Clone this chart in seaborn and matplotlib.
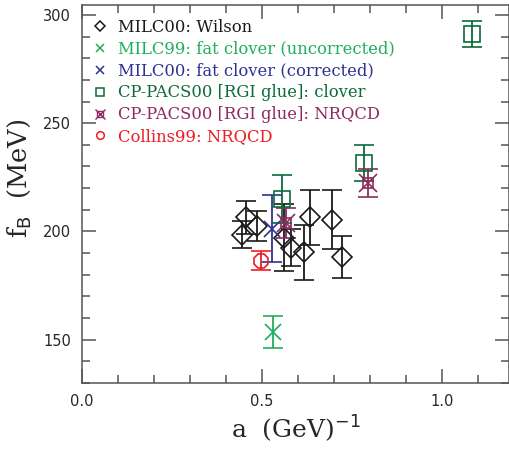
import matplotlib
matplotlib.use("Agg")
import matplotlib.pyplot as plt
import seaborn as sns
from matplotlib.lines import Line2D
from matplotlib.legend_handler import HandlerTuple
from matplotlib.ticker import MultipleLocator

# MILC00: Wilson
wilson_a = [0.444, 0.455, 0.487, 0.560, 0.580, 0.617, 0.633, 0.694, 0.723]
wilson_fb = [198.5, 206.5, 202.5, 197.0, 192.5, 190.3, 206.6, 205.4, 188.2]
wilson_err = [6.3, 7.5, 6.9, 15.5, 8.5, 12.7, 12.7, 13.5, 9.7]

# MILC99: fat clover (uncorrected)
milc99_a = [0.530]
milc99_fb = [153.4]
milc99_err = [7.4]

# MILC00: fat clover (corrected)
milc00fc_a = [0.528]
milc00fc_fb = [201.3]
milc00fc_err = [15.4]

# CP-PACS00 [RGI glue]: clover
cpclover_a = [0.556, 0.783, 1.083]
cpclover_fb = [215.0, 231.5, 291.2]
cpclover_err = [10.9, 8.2, 6.0]

# CP-PACS00 [RGI glue]: NRQCD
cpnrqcd_a = [0.567, 0.793]
cpnrqcd_fb = [203.8, 222.3]
cpnrqcd_err = [7.0, 6.3]

# Collins99: NRQCD
collins_a = [0.496]
collins_fb = [186.5]
collins_err = [4.3]

labels = [
    "MILC00: Wilson",
    "MILC99: fat clover (uncorrected)",
    "MILC00: fat clover (corrected)",
    "CP-PACS00 [RGI glue]: clover",
    "CP-PACS00 [RGI glue]: NRQCD",
    "Collins99: NRQCD",
]
colors = ["#1a1a1a", "#1fae5c", "#2e3192", "#0b6b3a", "#8e2a5e", "#ee1c25"]

sns.set_style("ticks")
plt.rcParams["font.family"] = ["DejaVu Sans"]

fig = plt.figure(figsize=(5.10, 4.51), dpi=100)
ax = fig.add_axes([0.161, 0.151, 0.837, 0.838])

series = [
    (wilson_a, wilson_fb, wilson_err, "D", 10, colors[0]),
    (milc99_a, milc99_fb, milc99_err, "x", 12, colors[1]),
    (milc00fc_a, milc00fc_fb, milc00fc_err, "x", 12, colors[2]),
    (cpclover_a, cpclover_fb, cpclover_err, "s", 11, colors[3]),
    (cpnrqcd_a, cpnrqcd_fb, cpnrqcd_err, "s", 7, colors[4]),
    (collins_a, collins_fb, collins_err, "8", 11, colors[5]),
]

for a, fb, err, m, ms, c in series:
    ax.errorbar(a, fb, yerr=err, fmt=m, ms=ms, mfc="none", mec=c, mew=1.2,
                ecolor=c, elinewidth=1.3, capsize=7.5, capthick=1.3)
# extra cross through the NRQCD squares
ax.plot(cpnrqcd_a, cpnrqcd_fb, ls="none", marker="x", ms=13, mew=1.2,
        color=colors[4])

ax.set_xlim(0, 1.186)
ax.set_ylim(130, 304.6)
ax.xaxis.set_major_locator(MultipleLocator(0.5))
ax.xaxis.set_minor_locator(MultipleLocator(0.1))
ax.yaxis.set_major_locator(MultipleLocator(50))
ax.yaxis.set_minor_locator(MultipleLocator(10))
ax.xaxis.set_major_formatter(plt.FuncFormatter(lambda v, p: f"{v:.1f}"))
ax.tick_params(which="both", direction="in", top=True, right=True,
               color="#555555", labelsize=10.5, width=1.1)
ax.tick_params(which="major", length=10, pad=8)
ax.tick_params(which="minor", length=6)
for s in ax.spines.values():
    s.set_color("#555555")
    s.set_linewidth(1.1)

ax.set_xlabel(r"a  (GeV)$^{-1}$", fontsize=18, family="DejaVu Serif",
              labelpad=3)
ax.set_ylabel(r"f$_{\rm B}$  (MeV)", fontsize=18.5, family="DejaVu Serif")
ax.yaxis.set_label_coords(-0.115, 0.542)

handles = []
for i, c in enumerate(colors):
    if i == 4:
        h = (Line2D([], [], ls="none", marker="s", ms=4.5, mfc="none", mec=c, mew=1),
             Line2D([], [], ls="none", marker="x", ms=7, color=c, mew=1))
    else:
        m = ["D", "x", "x", "s", None, "o"][i]
        h = Line2D([], [], ls="none", marker=m, ms=5.5, mfc="none", mec=c, mew=1.1,
                   color=c)
    handles.append(h)

leg = ax.legend(handles, labels, loc="upper left", bbox_to_anchor=(0.0, 0.99),
                frameon=False, handlelength=1.0, handletextpad=0.6,
                labelspacing=0.3, borderaxespad=0.2,
                prop={"family": "DejaVu Serif", "size": 11.8},
                handler_map={tuple: HandlerTuple(ndivide=1)})
for t, c in zip(leg.get_texts(), colors):
    t.set_color(c)

fig.savefig("out.png", dpi=100)
